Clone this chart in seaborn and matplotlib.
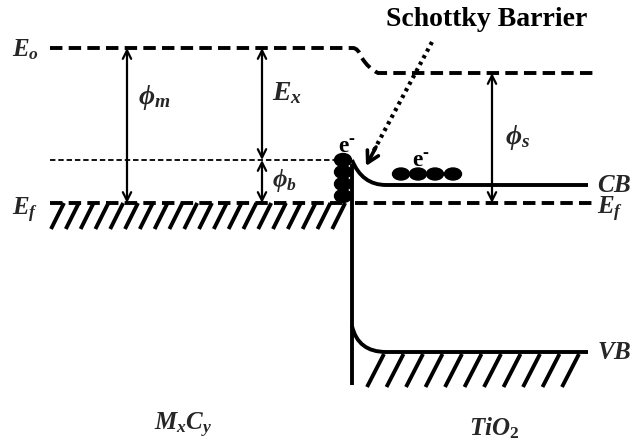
import numpy as np
import matplotlib
matplotlib.use("Agg")
import matplotlib.pyplot as plt
from matplotlib.path import Path
from matplotlib.patches import PathPatch, Ellipse, FancyArrowPatch
import seaborn as sns

# energy levels (diagram pixel units, y grows downward)
vacuum_y = [48, 73]          # E_o over metal, over TiO2
fermi_y = 203                # E_f (aligned)
barrier_y = 160              # top of Schottky barrier
cb_y = 185                   # TiO2 conduction band
vb_y = 352                   # TiO2 valence band
junction_x = 352
metal_x = [50, 350]
semi_x = [355, 592]

# double arrows: x, top, bottom
arrow_x = [127, 262, 262, 492]
arrow_top = [48, 48, 160, 73]
arrow_bot = [203, 160, 203, 203]

# electrons
stack_e_y = [160, 172, 184, 196]
row_e_x = [401, 418, 435, 453]

sns.set_style("white")
plt.rcParams["mathtext.fontset"] = "custom"
plt.rcParams["mathtext.rm"] = "Liberation Serif:bold"
plt.rcParams["mathtext.it"] = "Liberation Serif:bold:italic"
plt.rcParams["mathtext.bf"] = "Liberation Serif:bold:italic"

fig = plt.figure(figsize=(6.36, 4.47), dpi=100)
ax = fig.add_axes([0, 0, 1, 1])

thick = 2.8
dash = (3.2, 1.6)

# Fermi levels (metal side and TiO2 side)
sns.lineplot(x=[metal_x[0], 345], y=[fermi_y, fermi_y], ax=ax, color="black", lw=thick)
ax.lines[-1].set_dashes(dash)
sns.lineplot(x=[semi_x[0], semi_x[1]], y=[fermi_y, fermi_y], ax=ax, color="black", lw=thick)
ax.lines[-1].set_dashes(dash)

ax.set_xlim(0, 636)
ax.set_ylim(447, 0)
ax.axis("off")

# vacuum level with the step at the junction
verts = [(metal_x[0], vacuum_y[0]), (353, vacuum_y[0]), (358, vacuum_y[0]),
         (362, 58), (368, 68), (378, vacuum_y[1]), (semi_x[1] + 5, vacuum_y[1])]
codes = [Path.MOVETO, Path.LINETO, Path.CURVE3, Path.CURVE3, Path.CURVE3, Path.CURVE3, Path.LINETO]
ax.add_patch(PathPatch(Path(verts, codes), fill=False, lw=thick, ls=(0, dash), color="black"))

# barrier height line (thin dashed)
ax.plot([metal_x[0], 336], [barrier_y, barrier_y], color="black", lw=1.3, dashes=(3, 1.6))

# junction vertical
ax.plot([junction_x, junction_x], [barrier_y + 4, 385], color="black", lw=thick, solid_capstyle="butt")

# conduction band bending
cb_path = Path([(junction_x, barrier_y), (362, cb_y), (386, cb_y), (semi_x[1] - 4, cb_y)],
               [Path.MOVETO, Path.CURVE3, Path.CURVE3, Path.LINETO])
ax.add_patch(PathPatch(cb_path, fill=False, lw=thick, color="black"))

# valence band bending
vb_path = Path([(junction_x, 326), (358, vb_y), (386, vb_y), (semi_x[1] - 4, vb_y)],
               [Path.MOVETO, Path.CURVE3, Path.CURVE3, Path.LINETO])
ax.add_patch(PathPatch(vb_path, fill=False, lw=thick, color="black"))

# hatching: metal below E_f, TiO2 below VB
for xt in np.arange(64, 350, 14.8):
    ax.plot([xt, xt - 13], [fermi_y, 229], color="black", lw=thick, solid_capstyle="butt")
for xt in np.arange(384, 590, 19.5):
    ax.plot([xt, xt - 17], [vb_y + 2, 387], color="black", lw=thick, solid_capstyle="butt")

# double arrows
for x, t, b in zip(arrow_x, arrow_top, arrow_bot):
    ax.add_patch(FancyArrowPatch((x, t), (x, b), arrowstyle="<->,head_length=6,head_width=3",
                                 lw=1.6, color="black", shrinkA=0, shrinkB=0))

# electrons
for y in stack_e_y:
    ax.add_patch(Ellipse((343, y), 17, 13, color="black"))
for x in row_e_x:
    ax.add_patch(Ellipse((x, 174), 17, 12, color="black"))

# Schottky barrier pointer
ax.plot([432, 372], [42, 154], color="black", lw=3, ls=(0, (0.8, 1.0)))
ax.add_patch(FancyArrowPatch((376, 147), (366, 166), arrowstyle="->,head_length=8,head_width=4.5",
                             lw=2.6, color="black", shrinkA=0, shrinkB=0))

serif = dict(family="Liberation Serif", weight="bold", color="black")
fs = 18
ax.text(487, 20, "Schottky Barrier", ha="center", va="center", fontsize=20, **serif)
for ex, ey in [(343, 147), (417, 161)]:
    ax.text(ex, ey, "e", ha="center", va="center", fontsize=17, **serif)
    ax.text(ex + 8, ey - 8, "-", ha="center", va="center", fontsize=13, **serif)

ax.text(12, 50, r"$E_o$", ha="left", va="center", fontsize=fs)
ax.text(12, 210, r"$E_f$", ha="left", va="center", fontsize=fs)
ax.text(138, 97, r"$\phi_m$", ha="left", va="center", fontsize=fs + 2)
ax.text(272, 92, r"$E_x$", ha="left", va="center", fontsize=fs + 2)
ax.text(272, 180, r"$\phi_b$", ha="left", va="center", fontsize=fs)
ax.text(505, 137, r"$\phi_s$", ha="left", va="center", fontsize=fs + 2)
ax.text(597, 185, r"$CB$", ha="left", va="center", fontsize=fs)
ax.text(597, 209, r"$E_f$", ha="left", va="center", fontsize=fs)
ax.text(597, 352, r"$VB$", ha="left", va="center", fontsize=fs)
ax.text(183, 425, r"$M_xC_y$", ha="center", va="center", fontsize=fs)
ax.text(494, 428, r"$TiO_2$", ha="center", va="center", fontsize=fs)

fig.savefig("out.png", dpi=100, facecolor="white")
